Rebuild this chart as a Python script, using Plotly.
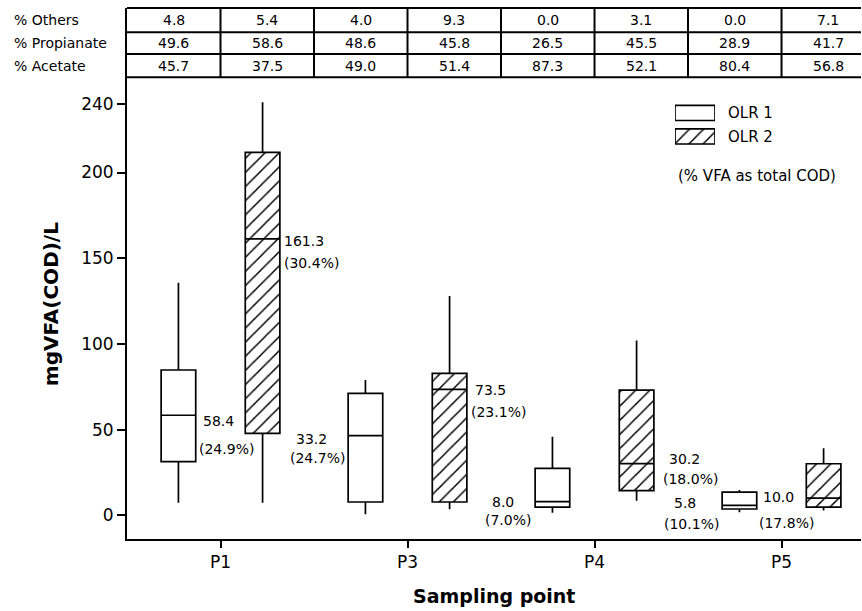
import numpy as np
import plotly.graph_objects as go

# ---- data -------------------------------------------------------------
points = ["P1", "P3", "P4", "P5"]
series = ["OLR 1", "OLR 2"]

# box statistics, mgVFA(COD)/L
olr1_low = [7.4, 0.6, 1.5, 1.8]
olr1_q1 = [31.3, 7.8, 4.8, 3.7]
olr1_med = [58.4, 46.5, 8.0, 5.8]
olr1_q3 = [84.8, 71.2, 27.4, 13.6]
olr1_high = [135.7, 79.0, 45.9, 14.8]

olr2_low = [7.4, 3.5, 8.5, 2.9]
olr2_q1 = [47.8, 7.8, 14.4, 4.8]
olr2_med = [161.3, 73.5, 30.2, 10.0]
olr2_q3 = [211.8, 82.8, 73.1, 30.1]
olr2_high = [241.0, 128.0, 102.0, 39.1]

# annotated VFA value and % VFA as total COD
olr1_label = [58.4, 33.2, 8.0, 5.8]
olr1_pct = [24.9, 24.7, 7.0, 10.1]
olr2_label = [161.3, 73.5, 30.2, 10.0]
olr2_pct = [30.4, 23.1, 18.0, 17.8]

# VFA composition table (columns: P1 OLR1, P1 OLR2, P3 OLR1, ...)
row_names = ["% Others", "% Propianate", "% Acetate"]
pct_others = [4.8, 5.4, 4.0, 9.3, 0.0, 3.1, 0.0, 7.1]
pct_propionate = [49.6, 58.6, 48.6, 45.8, 26.5, 45.5, 28.9, 41.7]
pct_acetate = [45.7, 37.5, 49.0, 51.4, 87.3, 52.1, 80.4, 56.8]

y_ticks = [0, 50, 100, 150, 200, 240]

# ---- style ------------------------------------------------------------
FONT = "DejaVu Sans"
BLACK = "black"
LW = 1.7
OFFSET = 0.225      # half distance between paired boxes
BOX_W = 0.185
HATCH = dict(shape="/", fgcolor=BLACK, bgcolor="white", fgopacity=1,
             size=10, solidity=0.15)

# label shifts (px) relative to each box centre / median
val1_shift = [(40, -6), (-54, -3), (-49, 0), (-54, 2)]
pct1_shift = [(48, -34), (-48, -22), (-44, -18), (-48, -19)]
val2_shift = [(41, -2), (41, -1), (48, 5), (-45, 1)]
pct2_shift = [(49, -24), (49, -23), (54, -15), (-37, -25)]

cat_pos = np.arange(1, len(points) + 1, dtype=float)
pos1 = cat_pos - OFFSET
pos2 = cat_pos + OFFSET

fig = go.Figure()

# hatched fill under the OLR 2 boxes
fig.add_trace(go.Bar(
    x=pos2, y=np.array(olr2_q3) - np.array(olr2_q1), base=olr2_q1,
    width=BOX_W,
    marker=dict(color="white", line=dict(width=0), pattern=HATCH),
    hoverinfo="skip", showlegend=False,
))

fig.add_trace(go.Box(
    name=series[0], x=pos1, q1=olr1_q1, median=olr1_med, q3=olr1_q3,
    lowerfence=olr1_low, upperfence=olr1_high,
    width=BOX_W, whiskerwidth=0, fillcolor="white",
    line=dict(color=BLACK, width=LW), hoverinfo="skip", showlegend=False,
))
fig.add_trace(go.Box(
    name=series[1], x=pos2, q1=olr2_q1, median=olr2_med, q3=olr2_q3,
    lowerfence=olr2_low, upperfence=olr2_high,
    width=BOX_W, whiskerwidth=0, fillcolor="rgba(0,0,0,0)",
    line=dict(color=BLACK, width=LW), hoverinfo="skip", showlegend=False,
))

# key swatches on a small inset axis
fig.add_trace(go.Bar(
    y=[series[0]], x=[1], base=[0], orientation="h", width=0.64,
    xaxis="x2", yaxis="y2",
    marker=dict(color="white", line=dict(color=BLACK, width=LW)),
    hoverinfo="skip", showlegend=False,
))
fig.add_trace(go.Bar(
    y=[series[1]], x=[1], base=[0], orientation="h", width=0.64,
    xaxis="x2", yaxis="y2",
    marker=dict(color="white", line=dict(color=BLACK, width=LW), pattern=HATCH),
    hoverinfo="skip", showlegend=False,
))

annotations = []


def note(text, x, y, xref="paper", yref="paper", size=14, **kw):
    d = dict(x=x, y=y, xref=xref, yref=yref, text=text, showarrow=False,
             xanchor="center", yanchor="middle",
             font=dict(family=FONT, size=size, color=BLACK))
    d.update(kw)
    annotations.append(d)


# value labels beside the boxes
def add_labels(pos, med, vals, pcts, vshift, pshift):
    for x, m, v, p, (vx, vy), (px, py) in zip(pos, med, vals, pcts, vshift, pshift):
        note(f"{v:.1f}", x, m, "x", "y", xshift=vx, yshift=vy)
        note(f"({p:.1f}%)", x, m, "x", "y", xshift=px, yshift=py)


add_labels(pos1, olr1_med, olr1_label, olr1_pct, val1_shift, pct1_shift)
add_labels(pos2, olr2_med, olr2_label, olr2_pct, val2_shift, pct2_shift)

# composition table above the plot
TABLE_LINES = [1.0, 0.9542, 0.9134, 0.8695]
row_centres = [(TABLE_LINES[i] + TABLE_LINES[i + 1]) / 2 for i in range(3)]
shapes = []
for yl in TABLE_LINES:
    shapes.append(dict(type="line", xref="paper", yref="paper", x0=0, x1=1,
                       y0=yl, y1=yl, line=dict(color=BLACK, width=2)))
col_edges = np.arange(1.0, cat_pos[-1] + 0.01, 0.5)
for xe in col_edges:
    shapes.append(dict(type="line", xref="x", yref="paper", x0=xe, x1=xe,
                       y0=TABLE_LINES[-1], y1=TABLE_LINES[0],
                       line=dict(color=BLACK, width=2)))

col_centres = np.arange(0.75, cat_pos[-1] + 0.3, 0.5)
for name, row, yc in zip(row_names, [pct_others, pct_propionate, pct_acetate], row_centres):
    note(name, -0.1573, yc, xanchor="left")
    for xc, v in zip(col_centres, row):
        note(f"{v:.1f}", xc, yc, "x", "paper")

note("(% VFA as total COD)", 0.748, 0.6836, size=15, xanchor="left")

# axis titles
note("<b>mgVFA(COD)/L</b>", -0.104, 0.4416, size=20, textangle=-90)
note("<b>Sampling point</b>", 0.5, -0.1073, size=19)

fig.update_layout(
    width=862, height=611,
    margin=dict(l=127, r=1, t=8, b=72),
    paper_bgcolor="white", plot_bgcolor="white",
    showlegend=False,
    font=dict(family=FONT, color=BLACK),
    xaxis=dict(range=[0.5, 4.425], tickvals=cat_pos, ticktext=points,
               ticks="outside", ticklen=7, tickwidth=2, tickcolor=BLACK,
               showline=True, linewidth=2, linecolor=BLACK,
               showgrid=False, zeroline=False,
               tickfont=dict(family=FONT, size=17, color=BLACK)),
    yaxis=dict(range=[-13.8, 296.0], tickvals=y_ticks,
               ticks="outside", ticklen=8, tickwidth=2, tickcolor=BLACK,
               showline=True, linewidth=2, linecolor=BLACK,
               showgrid=False, zeroline=False,
               tickfont=dict(family=FONT, size=17, color=BLACK)),
    xaxis2=dict(domain=[0.7466, 0.8011], range=[0, 1], visible=False,
                anchor="y2"),
    yaxis2=dict(domain=[0.7359, 0.8244], anchor="x2", side="right",
                type="category", categoryarray=series, range=[1.5, -0.5],
                showline=False, showgrid=False, zeroline=False, ticks="",
                ticklabelstandoff=12,
                tickfont=dict(family=FONT, size=15, color=BLACK)),
    shapes=shapes,
    annotations=annotations,
)

fig.write_html("out.html")
